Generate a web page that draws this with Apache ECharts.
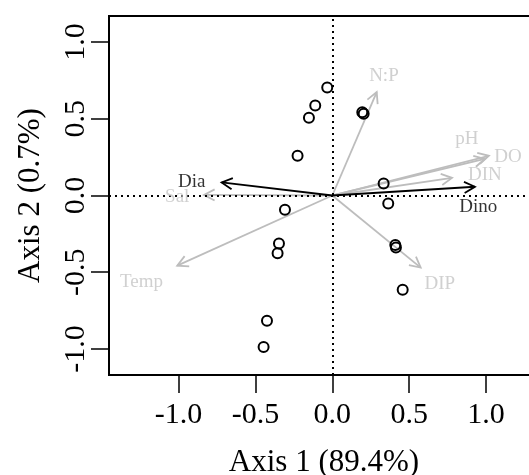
<!DOCTYPE html>
<html>
<head>
<meta charset="utf-8">
<script src="https://cdn.jsdelivr.net/npm/echarts@6/dist/echarts.min.js"></script>
<style>
  html, body { margin: 0; padding: 0; background: #fff; overflow: hidden; }
  #main { width: 529px; height: 475px; }
</style>
</head>
<body>
<div id="main"></div>
<script>
// site scores (axis 1, axis 2)
var siteX = [-0.033, -0.111, -0.152, 0.195, 0.204, -0.226, 0.334, 0.364, -0.308, -0.347, -0.356, 0.410, 0.414, 0.458, -0.425, -0.447]
var siteY = [0.704, 0.587, 0.507, 0.543, 0.533, 0.259, 0.078, -0.052, -0.093, -0.313, -0.376, -0.322, -0.339, -0.615, -0.817, -0.987]

// environmental vectors (grey)
var envNames = ['N:P', 'pH', 'DO', 'DIN', 'Sal', 'Temp', 'DIP']
var envX = [0.289, 0.993, 1.019, 0.779, -0.835, -1.009, 0.575]
var envY = [0.674, 0.239, 0.259, 0.115, 0.004, -0.457, -0.470]
var envLabelX = [0.336, 0.876, 1.143, 0.993, -1.009, -1.241, 0.700]
var envLabelY = [0.776, 0.370, 0.252, 0.135, -0.007, -0.561, -0.578]

// species group vectors (black)
var sppNames = ['Dia', 'Dino']
var sppX = [-0.720, 0.928]
var sppY = [0.085, 0.057]
var sppLabelX = [-0.915, 0.950]
var sppLabelY = [0.091, -0.074]

var tickValues = [-1.0, -0.5, 0.0, 0.5, 1.0]

var font = 'Liberation Serif'
var grey = '#bdbdbd'

function zip(a, b, c) {
  return a.map(function (v, i) { return c ? [v, b[i], c[i]] : [v, b[i]] })
}

function arrowRenderer(color) {
  return function (params, api) {
    var o = api.coord([0, 0])
    var t = api.coord([api.value(0), api.value(1)])
    var ang = Math.atan2(t[1] - o[1], t[0] - o[0])
    var len = 12, a = Math.PI / 6.5
    var p1 = [t[0] - len * Math.cos(ang - a), t[1] - len * Math.sin(ang - a)]
    var p2 = [t[0] - len * Math.cos(ang + a), t[1] - len * Math.sin(ang + a)]
    return {
      type: 'group',
      children: [
        { type: 'line', shape: { x1: o[0], y1: o[1], x2: t[0], y2: t[1] }, style: { stroke: color, lineWidth: 1.8 } },
        { type: 'polyline', shape: { points: [p1, t, p2] }, style: { stroke: color, fill: null, lineWidth: 1.8 } }
      ]
    }
  }
}

function axisCommon() {
  return {
    type: 'value',
    axisLine: { show: false, onZero: false },
    splitLine: { show: false },
    axisTick: { show: true, inside: false, length: 18, customValues: tickValues, lineStyle: { color: '#000', width: 1.5 } },
    axisLabel: { customValues: tickValues, color: '#000', fontFamily: font, fontSize: 30, formatter: function (v) { return v.toFixed(1) } },
    nameLocation: 'middle',
    nameTextStyle: { color: '#000', fontFamily: font, fontSize: 31 }
  }
}

var chart = echarts.init(document.getElementById('main'), null, { renderer: 'canvas' })

var xAxis = axisCommon()
xAxis.min = -1.453
xAxis.max = 1.345
xAxis.name = 'Axis 1 (89.4%)'
xAxis.nameGap = 72
xAxis.axisLabel.margin = 25

var yAxis = axisCommon()
yAxis.min = -1.17
yAxis.max = 1.17
yAxis.name = 'Axis 2 (0.7%)'
yAxis.nameGap = 63
yAxis.nameRotate = 90
yAxis.axisLabel.rotate = 90
yAxis.axisLabel.margin = 18

chart.setOption({
  animation: false,
  backgroundColor: '#fff',
  grid: {
    left: 109, top: 16, right: -10, bottom: 100,
    outerBoundsMode: 'none', containLabel: false,
    show: true, borderColor: '#000', borderWidth: 2, backgroundColor: 'transparent'
  },
  xAxis: xAxis,
  yAxis: yAxis,
  series: [
    {
      type: 'custom',
      name: 'env',
      renderItem: arrowRenderer(grey),
      data: zip(envX, envY),
      z: 2,
      silent: true
    },
    {
      type: 'custom',
      name: 'spp',
      renderItem: arrowRenderer('#000'),
      data: zip(sppX, sppY),
      z: 3,
      silent: true
    },
    {
      type: 'scatter',
      name: 'sites',
      data: zip(siteX, siteY),
      symbol: 'circle',
      symbolSize: 10,
      itemStyle: { color: 'rgba(0,0,0,0)', borderColor: '#000', borderWidth: 2, opacity: 1 },
      z: 4,
      markLine: {
        silent: true,
        symbol: ['none', 'none'],
        label: { show: false },
        lineStyle: { color: '#000', type: [2, 4], width: 2 },
        data: [{ xAxis: 0 }, { yAxis: 0 }]
      }
    },
    {
      type: 'scatter',
      name: 'envLabels',
      data: zip(envLabelX, envLabelY, envNames),
      symbolSize: 0,
      label: { show: true, position: 'inside', formatter: function (p) { return p.value[2] }, color: '#c4c4c4', fontFamily: font, fontSize: 19 },
      z: 5
    },
    {
      type: 'scatter',
      name: 'sppLabels',
      data: zip(sppLabelX, sppLabelY, sppNames),
      symbolSize: 0,
      label: { show: true, position: 'inside', formatter: function (p) { return p.value[2] }, color: '#000', fontFamily: font, fontSize: 19 },
      z: 5
    }
  ]
})
</script>
</body>
</html>
